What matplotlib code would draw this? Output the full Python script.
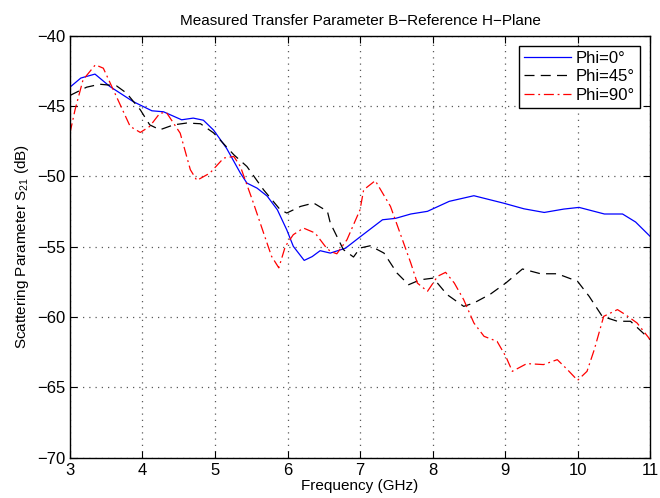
import numpy as np
import matplotlib.pyplot as plt
plt.switch_backend('Agg')

plt.rcParams['font.family'] = ['Liberation Sans', 'DejaVu Sans']
plt.rcParams['mathtext.default'] = 'regular'

# Phi = 0 deg
f0 = [3.0, 3.15, 3.345, 3.55, 3.87, 4.13, 4.29, 4.54, 4.70, 4.84, 4.98, 5.16, 5.35,
      5.44, 5.58, 5.72, 5.86, 5.99, 6.08, 6.23, 6.34, 6.45, 6.59, 6.80, 7.0, 7.31,
      7.49, 7.70, 7.93, 8.23, 8.57, 8.98, 9.26, 9.54, 9.81, 10.02, 10.37, 10.62,
      10.80, 11.0]
s0 = [-43.65, -43.0, -42.72, -43.6, -44.67, -45.33, -45.4, -45.97, -45.85, -46.0,
      -46.7, -48.0, -49.76, -50.47, -50.83, -51.4, -52.37, -53.8, -54.97, -55.97,
      -55.7, -55.28, -55.45, -55.1, -54.3, -53.08, -52.98, -52.67, -52.48, -51.77,
      -51.37, -51.9, -52.3, -52.56, -52.32, -52.2, -52.67, -52.67, -53.24, -54.26]

# Phi = 45 deg
f45 = [3.0, 3.23, 3.41, 3.64, 3.78, 3.97, 4.10, 4.24, 4.43, 4.61, 4.80, 4.98, 5.26,
       5.44, 5.67, 5.90, 5.99, 6.18, 6.36, 6.55, 6.59, 6.77, 6.91, 7.0, 7.14, 7.33,
       7.51, 7.67, 7.83, 8.01, 8.20, 8.43, 8.57, 8.80, 9.01, 9.24, 9.49, 9.72, 10.0,
       10.16, 10.34, 10.55, 10.73, 11.0]
s45 = [-44.24, -43.65, -43.44, -43.55, -44.07, -45.26, -46.33, -46.68, -46.33, -46.2,
       -46.25, -46.9, -48.46, -49.29, -50.95, -52.37, -52.6, -52.13, -51.89, -52.48,
       -53.31, -55.2, -55.73, -55.09, -54.93, -55.45, -56.87, -57.7, -57.35, -57.23,
       -58.4, -59.24, -59.0, -58.36, -57.58, -56.58, -56.92, -56.92, -57.46, -58.53,
       -59.95, -60.3, -60.3, -61.6]

# Phi = 90 deg
f90 = [3.0, 3.07, 3.18, 3.35, 3.46, 3.64, 3.83, 3.97, 4.10, 4.24, 4.33, 4.52, 4.66,
       4.75, 4.93, 5.12, 5.26, 5.35, 5.53, 5.67, 5.78, 5.88, 5.97, 6.08, 6.22, 6.38,
       6.52, 6.59, 6.68, 6.82, 7.0, 7.05, 7.21, 7.42, 7.70, 7.79, 7.93, 8.07, 8.18,
       8.30, 8.43, 8.57, 8.71, 8.89, 9.01, 9.10, 9.30, 9.53, 9.72, 9.86, 10.0, 10.13,
       10.23, 10.36, 10.55, 10.66, 10.82, 11.0]
s90 = [-46.92, -45.26, -43.13, -42.06, -42.3, -44.31, -46.44, -46.87, -46.44, -45.5,
       -45.45, -46.92, -49.52, -50.28, -49.76, -48.69, -48.58, -49.29, -51.89, -54.02,
       -55.68, -56.5, -54.97, -54.14, -53.67, -54.02, -54.97, -55.33, -55.5, -54.5,
       -52.37, -50.95, -50.3, -52.13, -56.16, -57.58, -58.17, -57.1, -56.82, -57.58,
       -58.77, -60.42, -61.37, -61.73, -62.8, -63.86, -63.31, -63.38, -63.03, -63.74,
       -64.5, -63.86, -62.32, -59.95, -59.47, -59.83, -60.42, -61.6]

labels = ['Phi=0\u00b0', 'Phi=45\u00b0', 'Phi=90\u00b0']

fig = plt.figure(figsize=(6.6, 4.98), dpi=100)
ax = fig.add_axes([0.106, 0.081, 0.879, 0.847])

ax.plot(f0, s0, color='blue', lw=0.9, label=labels[0])
ax.plot(f45, s45, color='black', lw=0.9, ls=(0, (8, 5)), label=labels[1])
ax.plot(f90, s90, color='red', lw=0.9, ls=(0, (8, 3, 1.5, 3)), label=labels[2])

ax.set_xlim(3, 11)
ax.set_ylim(-70, -40)
ax.set_xticks(np.arange(3, 12, 1))
ax.set_yticks(np.arange(-70, -39, 5))
ax.grid(True, ls=(0, (1, 4)), color='0.35', lw=0.9)
ax.tick_params(direction='in', top=True, right=True, labelsize=12, length=5)
for sp in ax.spines.values():
    sp.set_linewidth(1.0)

ax.set_title('Measured Transfer Parameter B\u2212Reference H\u2212Plane', fontsize=11, pad=8)
ax.set_xlabel('Frequency (GHz)', fontsize=11, labelpad=1)
ax.set_ylabel('Scattering Parameter S$_{21}$ (dB)', fontsize=11)

leg = ax.legend(loc='upper right', fontsize=12, fancybox=False, framealpha=1,
                edgecolor='black', handlelength=2.8, borderpad=0.3, labelspacing=0.2,
                borderaxespad=0.6, handletextpad=0.3)
leg.get_frame().set_linewidth(1.0)

plt.savefig('out.png', dpi=100)
plt.close(fig)
